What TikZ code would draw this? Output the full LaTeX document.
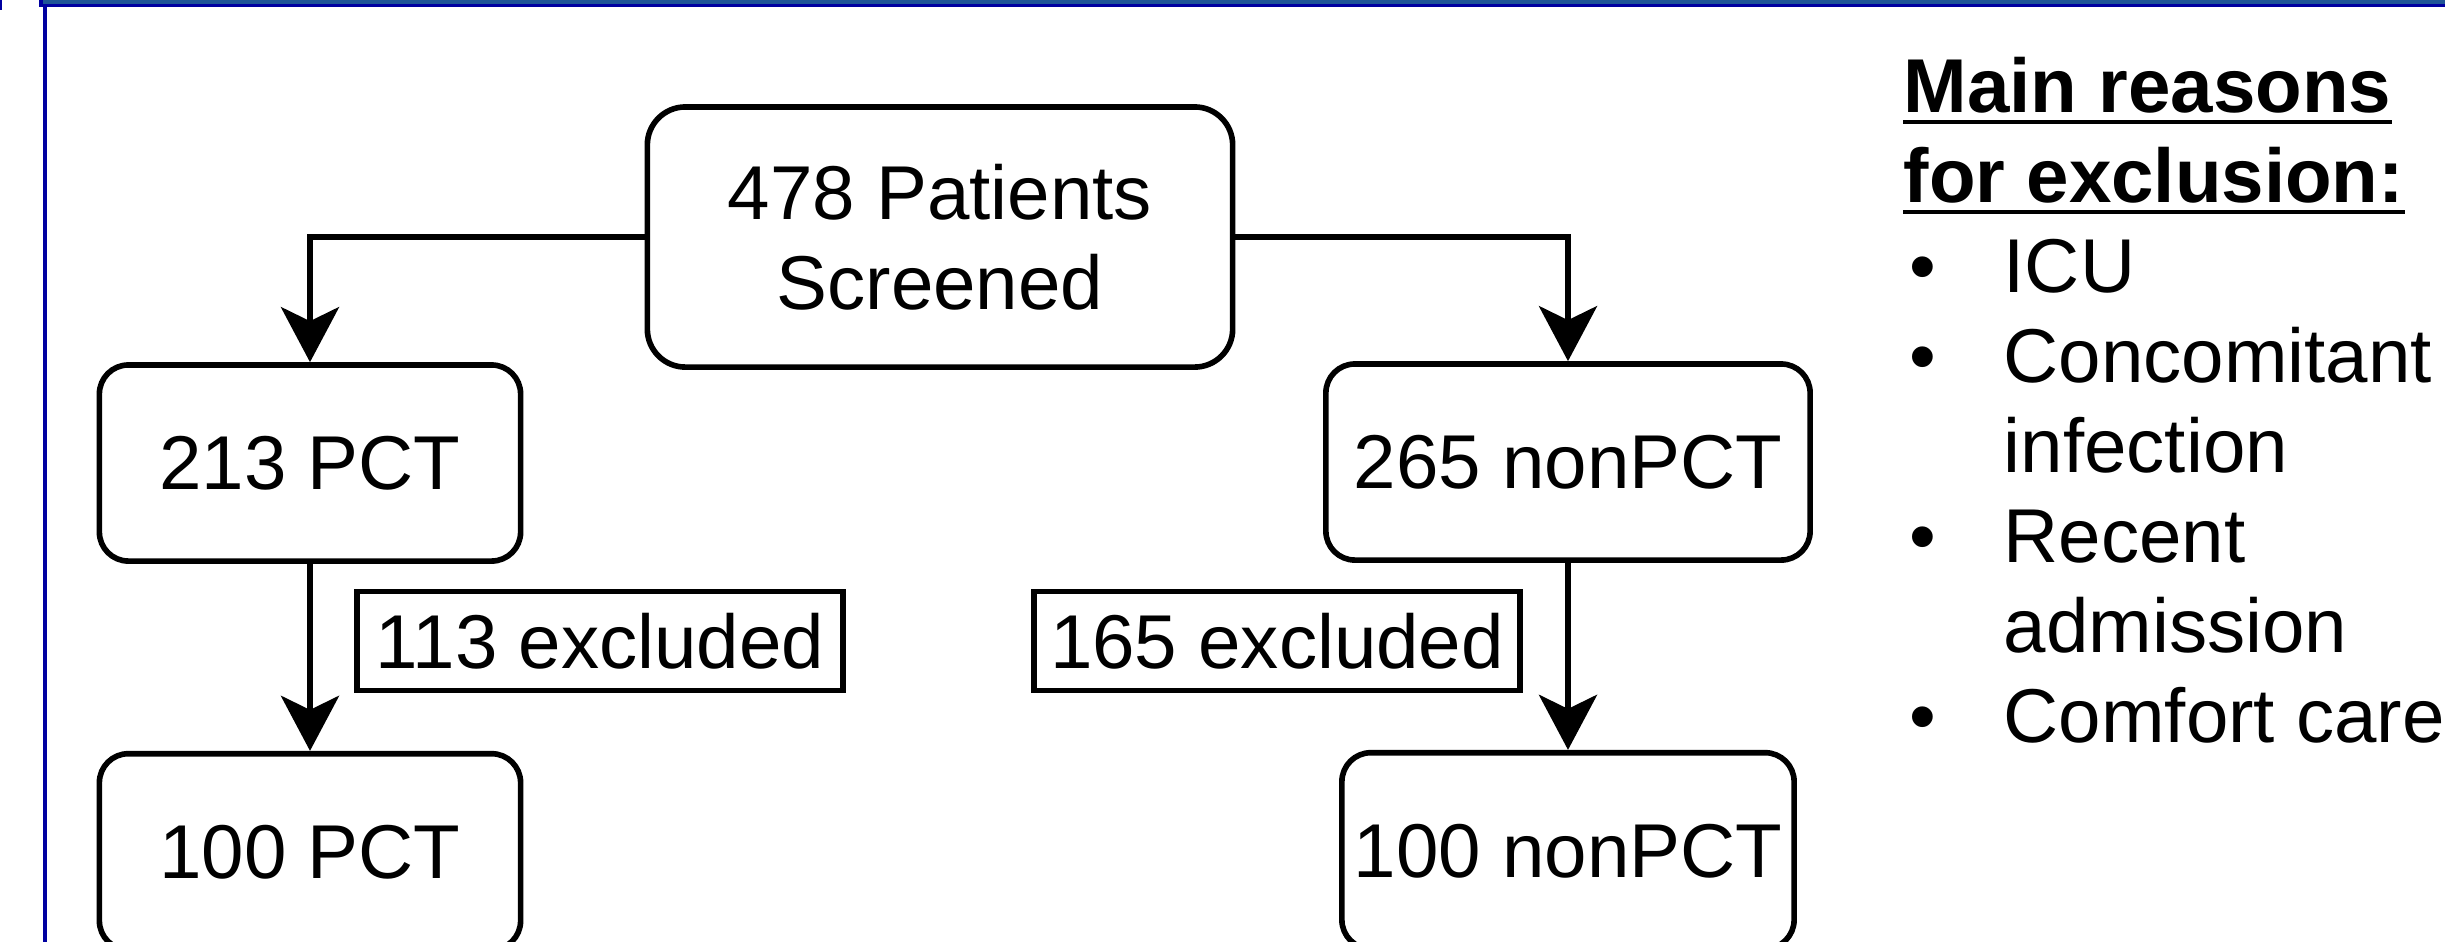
\documentclass[tikz,border=0pt]{standalone}
\usepackage{fontspec}
\setmainfont{Liberation Sans}
\usepackage{tikz}
\usetikzlibrary{positioning,arrows.meta}
\definecolor{barblue}{RGB}{31,85,150}
\definecolor{framenavy}{RGB}{0,0,160}
\tikzstyle{arrow} = [line width=1.6pt,-{Stealth[length=5.5mm,width=5.8mm,inset=1.4mm]}]

\begin{document}
\begin{tikzpicture}[x=0.01cm,y=-0.01cm,node distance=3.885cm,font=\fontsize{21.7}{25.6}\selectfont]
			\tikzstyle{node} = [rectangle, rounded corners=2.9mm, draw=black, line width=1.6pt, align=center, minimum height=1.96cm];
			\tikzstyle{excl} = [rectangle, draw=black, line width=1.6pt, minimum width=4.86cm, minimum height=0.99cm];
			\tikzstyle{reason} = [anchor=base west, inner sep=0pt];
			\tikzstyle{dot} = [anchor=base, inner sep=0pt];
			\useasboundingbox (0,0) rectangle (2445,941);
			\fill [framenavy] (0,0) rectangle (2,10);
			\draw [framenavy, fill=barblue, line width=0.3mm] (41,-3) rectangle (2448,5);
			\draw [framenavy, line width=0.4mm] (45,5) -- (45,945);
			\node (screened) [node, minimum width=5.85cm, minimum height=2.6cm, rounded corners=3.8mm] at (940,237) {478 Patients\\Screened};
			\node (pct) [node, minimum width=4.21cm] at (310,463) {213 PCT};
			\node (nonpct) [node, minimum width=4.84cm] at (1568,462) {265 nonPCT};
			\node (pctfinal) [node, minimum width=4.21cm, below of=pct] {100 PCT};
			\node (nonpctfinal) [node, minimum width=4.52cm, below of=nonpct] {100 nonPCT};
			\node (exclpct) [excl] at (600,641) {113 excluded};
			\node (exclnonpct) [excl] at (1277,641) {165 excluded};
			\draw [arrow] (screened.west) -| (pct.north);
			\draw [arrow] (screened.east) -| (nonpct.north);
			\draw [arrow] (pct) -- (pctfinal);
			\draw [arrow] (nonpct) -- (nonpctfinal);
			\node (mainreasons) [reason] at (1903,112) {\bfseries Main reasons};
			\node (forexclusion) [reason] at (1903,202) {\bfseries for exclusion:};
			\draw [line width=0.4mm] ([yshift=-1mm]mainreasons.base west) -- ([yshift=-1mm]mainreasons.base east);
			\draw [line width=0.4mm] ([yshift=-1mm]forexclusion.base west) -- ([yshift=-1mm]forexclusion.base east);
			\node (doticu) [dot] at (1923,292) {\textbullet};
			\node (dotconcomitant) [dot] at (1923,382) {\textbullet};
			\node (dotrecent) [dot] at (1923,562) {\textbullet};
			\node (dotcomfort) [dot] at (1923,742) {\textbullet};
			\node (icu) [reason] at (2003,292) {ICU};
			\node (concomitant) [reason] at (2003,382) {Concomitant};
			\node (infection) [reason] at (2003,472) {infection};
			\node (recent) [reason] at (2003,562) {Recent};
			\node (admission) [reason] at (2003,652) {admission};
			\node (comfort) [reason] at (2003,742) {Comfort care};
		\end{tikzpicture}
\end{document}
